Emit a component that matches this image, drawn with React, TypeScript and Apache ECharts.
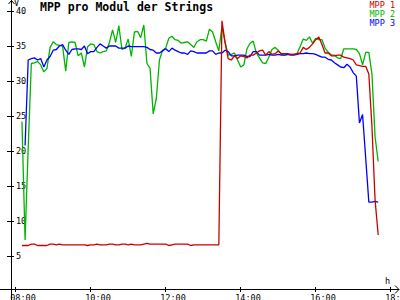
import React, { useEffect, useRef } from "react";
import * as echarts from "echarts";

// Sampling: one value every 5 minutes starting at 08:10
const START_TIME = "08:10";
const STEP_MINUTES = 5;

const mpp1: (number | null)[] = [
  6.5, 6.5, 6.5, 6.7, 6.7, 6.5, 6.5, 6.5, 6.5, 6.7, 6.7, 6.6, 6.7, 6.6, 6.6, 6.6,
  6.6, 6.6, 6.6, 6.6, 6.6, 6.5, 6.6, 6.6, 6.7, 6.6, 6.6, 6.6, 6.7, 6.7, 6.6, 6.6,
  6.7, 6.7, 6.6, 6.7, 6.6, 6.6, 6.6, 6.7, 6.8, 6.7, 6.7, 6.7, 6.7, 6.7, 6.7, 6.5,
  6.6, 6.7, 6.7, 6.7, 6.7, 6.7, 6.5, 6.6, 6.6, 6.6, 6.6, 6.6, 6.6, 6.6, 6.6, 6.6,
  38.6, 35.5, 33.2, 33.0, 33.6, 33.2, 33.6, 33.5, 33.3, 33.7, 33.7, 34.0, 34.3, 34.4,
  33.7, 34.2, 33.8, 33.9, 34.3, 33.9, 33.9, 33.9, 33.8, 33.8, 33.9, 34.0, 34.8, 34.5,
  34.8, 35.3, 35.9, 36.3, 35.2, 34.0, 34.0, 33.6, 33.6, 33.7, 33.7, 33.4, 33.3, 33.2,
  33.0, 32.3, 32.2, 32.1, 32.1, 31.0, 23.5, 13.0, 8.0,
];

const mpp2: (number | null)[] = [
  24.2, 7.3, 20.5, 32.5, 32.6, 32.8, 32.3, 31.3, 31.8, 34.8, 35.6, 35.2, 35.1, 35.0,
  31.4, 35.5, 35.6, 35.5, 33.6, 34.0, 32.0, 34.9, 35.3, 35.2, 34.2, 34.0, 34.2, 34.3,
  35.5, 37.3, 35.5, 37.9, 34.5, 34.7, 36.0, 33.5, 37.0, 37.1, 36.2, 38.0, 32.5, 31.8,
  25.3, 27.5, 33.0, 34.4, 34.7, 36.1, 36.4, 35.9, 35.8, 35.4, 35.5, 35.6, 35.2, 34.8,
  35.6, 35.9, 35.9, 35.7, 37.4, 37.0, 35.6, 34.3, 37.8, 35.5, 33.7, 33.8, 34.0, 33.0,
  32.0, 32.3, 34.6, 35.4, 35.7, 34.0, 33.3, 32.6, 32.5, 33.4, 34.5, 34.8, 34.4, 33.8,
  33.7, 33.8, 33.8, 33.8, 33.9, 34.9, 36.0, 35.8, 36.3, 35.4, 36.1, 35.9, 35.9, 34.7,
  34.1, 33.7, 33.7, 33.3, 33.2, 34.6, 34.6, 34.6, 34.6, 34.5, 33.9, 32.3, 34.1, 34.1,
  31.0, 22.0, 18.5,
];

const mpp3: (number | null)[] = [
  null, 20.8, 33.0, 33.2, 33.3, 33.0, 33.2, 32.0, 33.0, 33.5, 34.4, 34.5, 35.0, 35.2,
  34.4, 33.8, 34.5, 34.6, 34.6, 34.5, 35.0, 33.9, 34.2, 34.2, 34.8, 35.3, 35.0, 34.7,
  35.0, 35.0, 35.0, 34.7, 34.7, 34.7, 35.0, 34.9, 34.9, 34.9, 34.9, 34.9, 34.8, 34.5,
  34.4, 34.0, 34.0, 34.3, 34.6, 34.2, 34.7, 34.4, 34.2, 34.0, 34.0, 33.8, 34.3, 34.2,
  34.0, 34.0, 34.0, 34.0, 34.3, 34.3, 33.8, 34.0, 34.0, 34.4, 34.2, 33.6, 33.6, 33.7,
  33.7, 33.7, 33.5, 33.5, 34.2, 34.2, 33.7, 33.7, 33.7, 33.8, 33.7, 33.7, 33.8, 33.7,
  33.7, 33.8, 33.7, 33.7, 33.8, 33.9, 33.9, 34.0, 33.9, 33.9, 33.8, 33.6, 33.4, 33.4,
  33.1, 33.0, 32.6, 32.3, 32.0, 31.9, 32.4, 32.0, 31.2, 30.7, 24.0, 25.2, 19.0, 12.7,
  12.7, 12.8, 12.7,
];

const seriesNames = ["MPP 1", "MPP 2", "MPP 3"];
const seriesColors = ["#c80000", "#00b400", "#0000ff"];

const yTicks = [5, 10, 15, 20, 25, 30, 35, 40];
const xTicks = [8, 10, 12, 14, 16, 18];
const xTickLabels = ["08:00", "10:00", "12:00", "14:00", "16:00", "18:00"];

const TITLE = "MPP pro Modul der Strings";
const Y_UNIT = "V";
const X_UNIT = "h";

const FONT = "DejaVu Sans Mono";

function toHours(hhmm: string) {
  const [h, m] = hhmm.split(":").map(Number);
  return h + m / 60;
}

function buildSeries(values: (number | null)[]) {
  const start = toHours(START_TIME);
  const out: [number, number][] = [];
  values.forEach((v, i) => {
    if (v !== null) out.push([start + (i * STEP_MINUTES) / 60, v]);
  });
  return out;
}

export default function App() {
  const ref = useRef<HTMLDivElement>(null);

  useEffect(() => {
    if (!ref.current) return;
    const chart = echarts.init(ref.current, undefined, { renderer: "svg" });

    const PX_PER_H = 37.5;
    const xMin = 7.8747;
    const xMax = xMin + 384 / PX_PER_H;
    const yMin = 0.286;
    const yMax = 41.571;
    // label axis spans the full 400px width; labels start ~5.5px left of their tick
    const lMin = 8 - 10.2 / PX_PER_H;
    const lMax = lMin + 400 / PX_PER_H;

    const tickStyle = { color: "#000", width: 1 };
    const noLine = { show: false };

    const allSeries = [mpp2, mpp3, mpp1];
    const order = [1, 2, 0];

    chart.setOption({
      animation: false,
      textStyle: { fontFamily: FONT },
      title: {
        text: TITLE,
        left: 40,
        top: 1,
        padding: 0,
        textStyle: { fontFamily: FONT, fontSize: 11.5, fontWeight: "bold", color: "#000" },
      },
      legend: {
        orient: "vertical",
        right: 0,
        top: 0,
        padding: 0,
        itemGap: 0,
        itemWidth: 0,
        itemHeight: 8,
        icon: "none",
        align: "right",
        selectedMode: false,
        textStyle: { fontFamily: FONT, fontSize: 8.5, lineHeight: 8, padding: 0 },
        data: seriesNames.map((n, i) => ({ name: n, textStyle: { color: seriesColors[i] } })),
      },
      grid: [
        { left: 11, right: 5, top: 0, bottom: 11, containLabel: false, outerBoundsMode: "none" },
        { left: 0, right: 0, top: 0, bottom: 11, containLabel: false, outerBoundsMode: "none" },
      ],
      xAxis: [
        {
          type: "value", gridIndex: 0, min: xMin, max: xMax, position: "bottom",
          axisLine: noLine, splitLine: noLine,
          axisTick: { show: true, inside: true, length: 2, customValues: xTicks, lineStyle: tickStyle },
          axisLabel: { show: false },
        },
        {
          type: "value", gridIndex: 0, min: xMin, max: xMax, position: "bottom",
          axisLine: noLine, splitLine: noLine,
          axisTick: { show: true, inside: false, length: 3, customValues: xTicks, lineStyle: tickStyle },
          axisLabel: { show: false },
        },
        {
          type: "value", gridIndex: 1, min: lMin, max: lMax, position: "bottom",
          axisLine: noLine, splitLine: noLine, axisTick: { show: false },
          axisLabel: {
            show: true, customValues: xTicks, align: "left", margin: 4,
            fontFamily: FONT, fontSize: 8.5, color: "#000",
            formatter: (v: number) => xTickLabels[xTicks.indexOf(Math.round(v))] ?? "",
          },
        },
      ],
      yAxis: [
        {
          type: "value", gridIndex: 0, min: yMin, max: yMax, position: "left",
          axisLine: noLine, splitLine: noLine,
          axisTick: { show: true, inside: false, length: 4, customValues: yTicks, lineStyle: tickStyle },
          axisLabel: {
            show: true, inside: true, margin: 5, customValues: yTicks,
            fontFamily: FONT, fontSize: 8.5, color: "#000",
          },
        },
        {
          type: "value", gridIndex: 0, min: yMin, max: yMax, position: "left",
          axisLine: noLine, splitLine: noLine,
          axisTick: { show: true, inside: true, length: 3, customValues: yTicks, lineStyle: tickStyle },
          axisLabel: { show: false },
        },
        {
          type: "value", gridIndex: 1, min: yMin, max: yMax, show: false,
        },
      ],
      graphic: [
        { type: "line", shape: { x1: 11.5, y1: 0, x2: 11.5, y2: 300 }, style: { stroke: "#000", lineWidth: 1 } },
        { type: "polyline", shape: { points: [[8.5, 4], [11.5, 0.5], [14.5, 4]] }, style: { stroke: "#000", lineWidth: 1, fill: "none" } },
        { type: "line", shape: { x1: 0, y1: 289.5, x2: 399, y2: 289.5 }, style: { stroke: "#000", lineWidth: 1 } },
        { type: "polyline", shape: { points: [[395, 285.5], [399, 289.5], [395, 293.5]] }, style: { stroke: "#000", lineWidth: 1, fill: "none" } },
        { type: "text", x: 14, y: -2, style: { text: Y_UNIT, font: `8.5px ${FONT}`, fill: "#000" } },
        { type: "text", x: 385, y: 276, style: { text: X_UNIT, font: `8.5px ${FONT}`, fill: "#000" } },
      ],
      series: allSeries.map((vals, k) => ({
        name: seriesNames[order[k]],
        type: "line",
        xAxisIndex: 0,
        yAxisIndex: 0,
        showSymbol: false,
        symbol: "none",
        lineStyle: { width: 1.3, color: seriesColors[order[k]] },
        itemStyle: { color: seriesColors[order[k]] },
        data: buildSeries(vals),
      })),
    });

    return () => chart.dispose();
  }, []);

  return <div ref={ref} style={{ width: 400, height: 300, position: "absolute", left: 0, top: 0 }} />;
}
